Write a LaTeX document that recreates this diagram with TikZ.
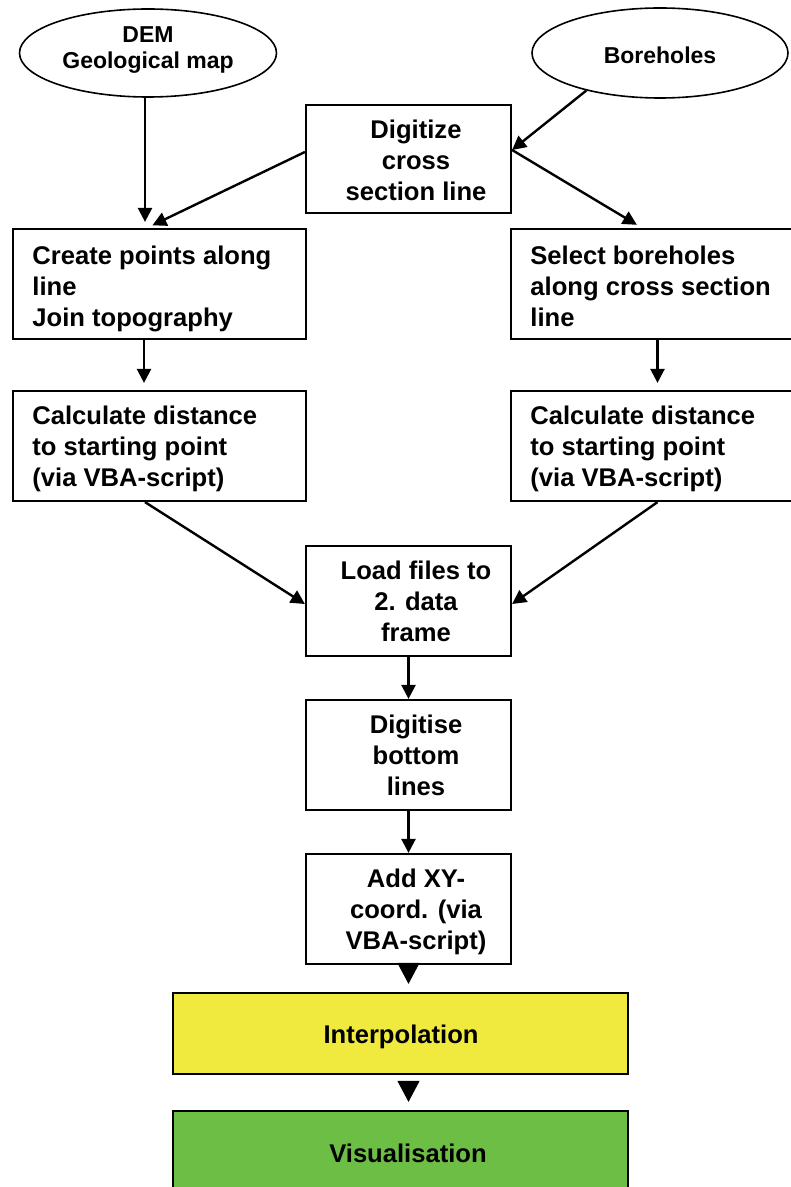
\documentclass[tikz,border=0pt]{standalone}
\usepackage{fontspec}
\setmainfont{Liberation Sans}
\usetikzlibrary{arrows.meta,shapes.geometric}
\definecolor{interpcol}{RGB}{240,233,62}
\definecolor{visucol}{RGB}{109,190,69}
\begin{document}
\begin{tikzpicture}[x=0.5pt,y=-0.5pt,
  bf/.style={font=\fontsize{12.8}{15.5}\selectfont\bfseries},
  ef/.style={font=\fontsize{11.5}{13}\selectfont\bfseries},
  ell/.style={draw, line width=0.8pt, ellipse, inner sep=0pt},
  sidebox/.style={draw, line width=1.1pt, minimum width=146.5pt, minimum height=55pt, inner sep=0pt},
  cbox/.style={draw, line width=1.1pt, minimum width=102.5pt, minimum height=55pt, inner sep=0pt},
  widebox/.style={draw, line width=1.1pt, minimum width=227.5pt, minimum height=40.5pt, inner sep=0pt},
  ltxt/.style={bf, align=left, inner sep=0pt, anchor=north west},
  ctxt/.style={bf, align=center, inner sep=0pt, anchor=north},
  arr/.style={line width=1.2pt, -{Triangle[length=7pt,width=7pt]}},
  bigarr/.style={line width=0.5pt, -{Triangle[length=10.5pt,width=11pt]}},
]
\useasboundingbox (0,0) rectangle (791,1187);
\clip (0,0) rectangle (791,1187);

% ellipses
\node[ell, minimum width=128.5pt, minimum height=44pt] (dem) at (148,53) {};
\node[ctxt, ef] (demt) at (148,26.5) {DEM\\Geological map};
\node[ell, minimum width=128pt, minimum height=45pt] (bor) at (660,53) {};
\node[ctxt, ef] (bort) at (660,46.5) {Boreholes};

% boxes
\node[cbox, minimum height=54pt] (dig) at (408.5,159) {};
\node[ctxt] (digt) at (416,120) {Digitize\\cross\\section line};

\node[sidebox] (create) at (159.5,284) {};
\node[ltxt] (createt) at (32,246) {Create points along\\line\\Join topography};

\node[sidebox] (sel) at (657.5,284) {};
\node[ltxt] (selt) at (530,246) {Select boreholes\\along cross section\\line};

\node[sidebox] (calcl) at (159.5,446) {};
\node[ltxt] (calclt) at (32,406) {Calculate distance\\to starting point\\(via VBA-script)};

\node[sidebox] (calcr) at (657.5,446) {};
\node[ltxt] (calcrt) at (530,406) {Calculate distance\\to starting point\\(via VBA-script)};

\node[cbox] (load) at (408.5,601) {};
\node[ctxt] (loadt) at (416,561) {Load files to\\2. data\\frame};

\node[cbox] (digb) at (408.5,755) {};
\node[ctxt] (digbt) at (416,715) {Digitise\\bottom\\lines};

\node[cbox] (add) at (408.5,909) {};
\node[ctxt] (addt) at (416,869) {Add XY-\\coord. (via\\VBA-script)};

\node[widebox, fill=interpcol] (interp) at (400.5,1033.5) {};
\node[ctxt] (interpt) at (401,1025) {Interpolation};

\node[widebox, fill=visucol] (visu) at (400.5,1151.5) {};
\node[ctxt] (visut) at (408,1144) {Visualisation};

% connectors
\draw[arr, shorten >=3pt] ([xshift=-1.5pt]dem.south) -- ([xshift=-7.25pt]create.north);
\draw[arr, shorten >=3pt] ([yshift=3.5pt]dig.west) -- ([xshift=-6.25pt]create.north);
\draw[arr] (bor.207) -- ([yshift=4.5pt]dig.east);
\draw[arr, shorten >=3pt] ([yshift=4.5pt]dig.east) -- ([xshift=-7.75pt]sel.north);
\draw[arr, shorten >=3.5pt] ([xshift=-7.75pt]create.south) -- ([xshift=-7.75pt]calcl.north);
\draw[arr, shorten >=3.5pt] (sel.south) -- (calcr.north);
\draw[arr] ([xshift=-7.25pt]calcl.south) -- ([yshift=-1.5pt]load.west);
\draw[arr] (calcr.south) -- ([yshift=-1.5pt]load.east);
\draw[arr] (load.south) -- (digb.north);
\draw[arr] (digb.south) -- (add.north);
\draw[bigarr, shorten >=4pt] (add.south) -- (add.south |- interp.north);
\draw[bigarr, shorten <=3.5pt, shorten >=4pt] (interp.south -| add.south) -- (visu.north -| add.south);
\end{tikzpicture}
\end{document}
